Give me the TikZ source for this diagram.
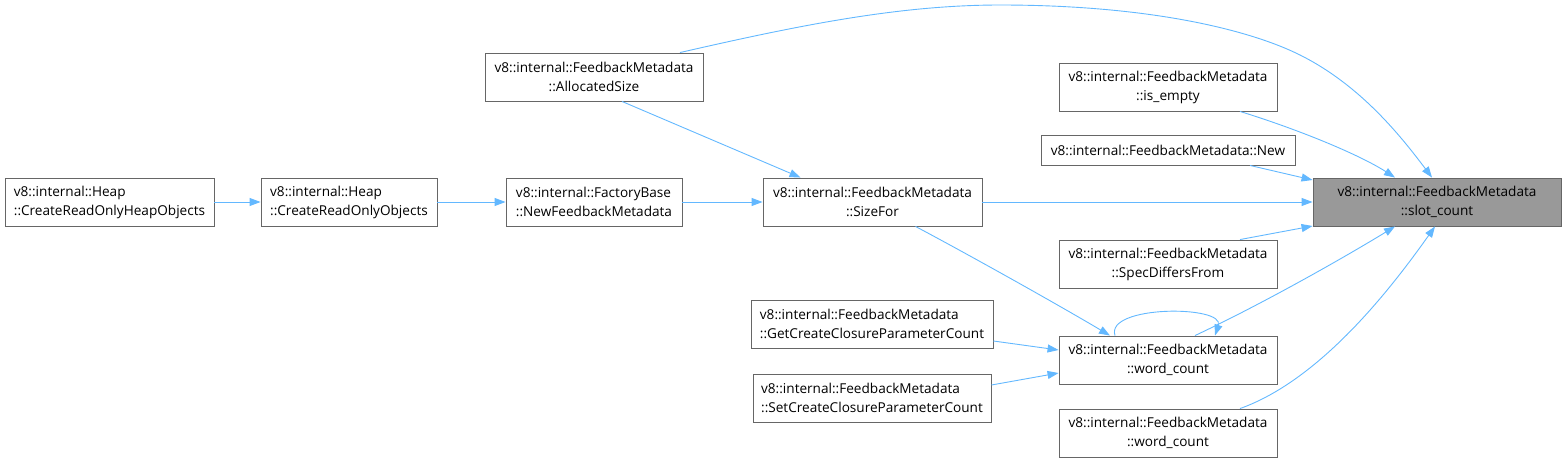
\documentclass[tikz,border=0pt]{standalone}
\usepackage{fontspec}
\setmainfont{Open Sans}
\usetikzlibrary{arrows.meta,calc}
\definecolor{edgeblue}{RGB}{99,184,255}
\definecolor{boxgray}{RGB}{102,102,102}
\definecolor{fillgray}{RGB}{153,153,153}
\tikzset{
  fn/.style={draw=boxgray, line width=0.9pt, fill=white, align=center, inner sep=0pt,
    font=\fontsize{13.6}{19}\selectfont, minimum height=48pt},
  fnleft/.style={fn, align=left},
  fnone/.style={fn, minimum height=30pt},
  cur/.style={fn, fill=fillgray},
  e/.style={draw=edgeblue, line width=0.9pt, -{Triangle[length=11pt,width=8pt]}}
}
\begin{document}
\begin{tikzpicture}[x=1pt,y=-1pt]
\useasboundingbox (0,0) rectangle (1567,464);
\node[cur, minimum width=248pt] (slot) at (1437,202) {v8::internal::FeedbackMetadata\\::slot\_count};
\node[fn, minimum width=218pt] (alloc) at (594,77) {v8::internal::FeedbackMetadata\\::AllocatedSize};
\node[fn, minimum width=218pt] (empty) at (1168,87) {v8::internal::FeedbackMetadata\\::is\_empty};
\node[fnone, minimum width=254pt] (new) at (1168,150) {v8::internal::FeedbackMetadata::New};
\node[fn, minimum width=219pt] (sizefor) at (872.5,202) {v8::internal::FeedbackMetadata\\::SizeFor};
\node[fn, minimum width=218pt] (spec) at (1168,264) {v8::internal::FeedbackMetadata\\::SpecDiffersFrom};
\node[fn, minimum width=218pt] (wc) at (1168,360) {v8::internal::FeedbackMetadata\\::word\_count};
\node[fn, minimum width=218pt] (wcb) at (1168,433) {v8::internal::FeedbackMetadata\\::word\_count};
\node[fnleft, minimum width=242pt] (getc) at (872,324) {v8::internal::FeedbackMetadata\\::GetCreateClosureParameterCount};
\node[fnleft, minimum width=238pt] (setc) at (872,398) {v8::internal::FeedbackMetadata\\::SetCreateClosureParameterCount};
\node[fnleft, minimum width=176pt] (newfm) at (594,202) {v8::internal::FactoryBase\\::NewFeedbackMetadata};
\node[fnleft, minimum width=176pt] (croo) at (349,202) {v8::internal::Heap\\::CreateReadOnlyObjects};
\node[fnleft, minimum width=209pt] (croho) at (109.5,202) {v8::internal::Heap\\::CreateReadOnlyHeapObjects};

\draw[e] (croho.east) -- (croo.west);
\draw[e] (croo.east) -- (newfm.west);
\draw[e] (newfm.east) -- (sizefor.west);
\draw[e] ([xshift=28pt]alloc.south) -- ([xshift=-72pt]sizefor.north);
\draw[e] ([xshift=86pt]alloc.north) .. controls (800,25) and (900,5) .. (1000,5)
   .. controls (1150,5) and (1250,30) .. (1300,55)
   .. controls (1360,85) and (1400,135) .. ([xshift=-5pt]slot.north);
\draw[e] ([xshift=72pt]empty.south) .. controls (1300,130) and (1360,155) .. ([xshift=-42pt]slot.north);
\draw[e] ([xshift=82pt]new.south) -- ([yshift=22pt]slot.west);
\draw[e] (sizefor.east) -- (slot.west);
\draw[e] ([xshift=72pt]spec.north) -- ([yshift=-24pt]slot.west);
\draw[e] ([xshift=43pt]sizefor.south) .. controls (960,250) and (1050,300) .. ([xshift=-58pt]wc.north);
\draw[e] ([xshift=-53pt]wc.north) .. controls (1105,305) and (1225,305) .. ([xshift=47pt]wc.north);
\draw[e] ([xshift=27pt]wc.north) .. controls (1260,305) and (1340,260) .. ([xshift=-42pt]slot.south);
\draw[e] ([xshift=72pt]wcb.north) .. controls (1320,380) and (1390,290) .. ([xshift=-2pt]slot.south);
\draw[e] ([yshift=-17pt]getc.east) -- ([yshift=10pt]wc.west);
\draw[e] ([yshift=13pt]setc.east) -- ([yshift=-13pt]wc.west);
\end{tikzpicture}
\end{document}
